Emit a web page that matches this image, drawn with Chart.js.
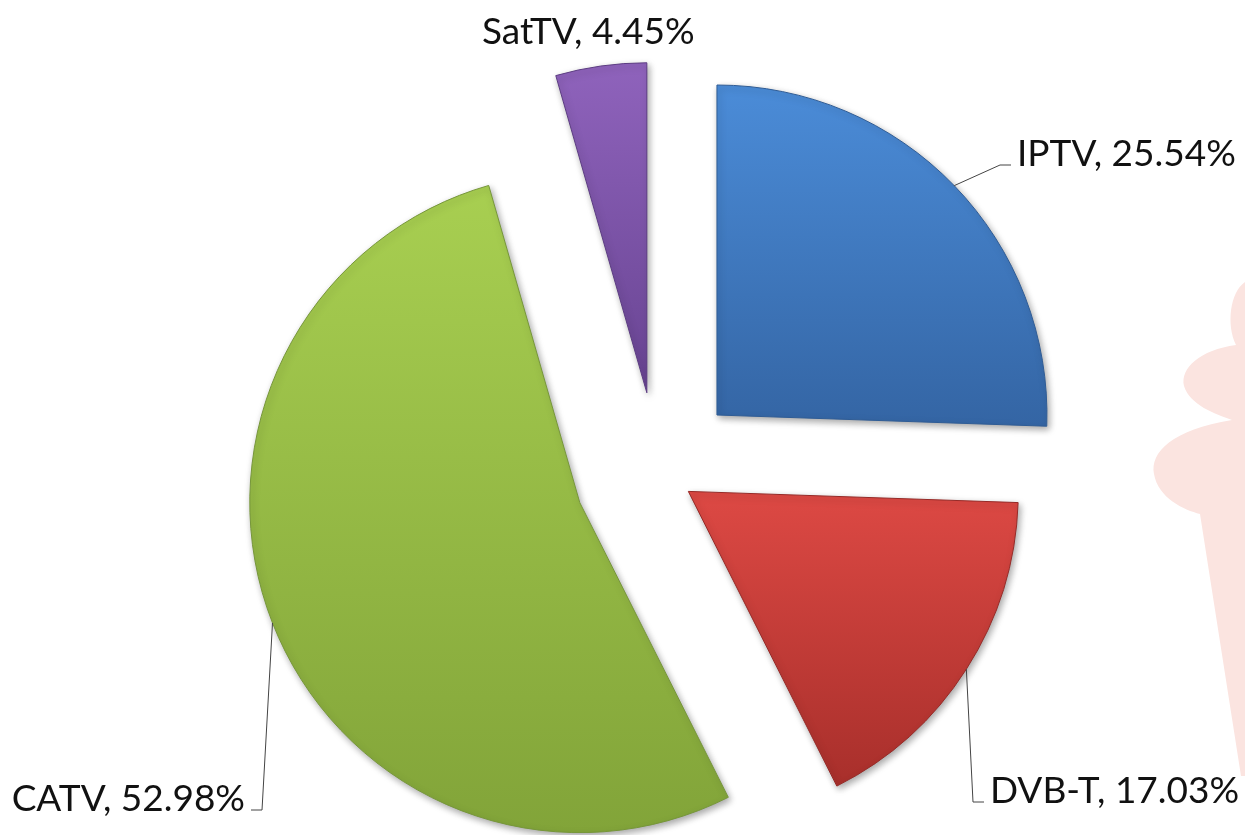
<!DOCTYPE html>
<html>
<head>
<meta charset="utf-8">
<script src="https://cdn.jsdelivr.net/npm/chart.js@4.4.1/dist/chart.umd.min.js"></script>
<style>
    html, body { margin: 0; padding: 0; background: #fff; }
</style>
</head>
<body>
<canvas id="tv-chart" width="1245" height="835"></canvas>
<script>
var labels = ['IPTV', 'DVB-T', 'CATV', 'SatTV'];
var shares = [25.54, 17.03, 52.98, 4.45];
var topColors = ['#4b8cd8', '#dd4944', '#a8cf51', '#8f63bc'];
var bottomColors = ['#3465a4', '#a82f2b', '#82a439', '#684492'];
var edgeColors = ['#2f5c95', '#962a27', '#76963a', '#5c3c82'];
var pull = [82, 36, 84, 80];   // px each slice is pulled out from the centre

var R = 330;
var total = shares.reduce(function(a, b){ return a + b; }, 0);

function sliceAngles(i){
    var before = 0;
    for(var k = 0; k < i; k++) before += shares[k];
    var a0 = -Math.PI / 2 + 2 * Math.PI * before / total;
    var a1 = a0 + 2 * Math.PI * shares[i] / total;
    return [a0, a1];
}

function sliceFill(c){
    var i = c.dataIndex;
    var area = c.chart.chartArea;
    if(!area) return topColors[i];
    var cy = (area.top + area.bottom) / 2;
    var a = sliceAngles(i);
    var mid = (a[0] + a[1]) / 2;
    var ay = cy + Math.sin(mid) * pull[i];
    var ys = [ay, ay + R * Math.sin(a[0]), ay + R * Math.sin(a[1])];
    if(a[0] < Math.PI / 2 && a[1] > Math.PI / 2) ys.push(ay + R);
    if(a[0] <= -Math.PI / 2 + 1e-6 || a[1] >= 3 * Math.PI / 2 - 1e-6) ys.push(ay - R);
    var g = c.chart.ctx.createLinearGradient(0, Math.min.apply(null, ys), 0, Math.max.apply(null, ys));
    g.addColorStop(0, topColors[i]);
    g.addColorStop(1, bottomColors[i]);
    return g;
}

// where each data label sits (baseline), and which side its leader comes from
var labelSpots = [
    {x: 1017, y: 166, align: 'left'},
    {x: 990, y: 803, align: 'left'},
    {x: 245, y: 811, align: 'right'},
    {x: 482, y: 44, align: 'left', noLine: true}
];

// explode the slices: move each arc's centre out along its middle angle
// (chart.js 'offset' also shrinks the angle, so do it here instead)
var explode = {
    id: 'explode',
    afterDatasetUpdate: function(chart, args){
        args.meta.data.forEach(function(arc, i){
            var mid = (arc.startAngle + arc.endAngle) / 2;
            arc.x += Math.cos(mid) * pull[i];
            arc.y += Math.sin(mid) * pull[i];
        });
    }
};

var watermark = {
    id: 'watermark',
    beforeDraw: function(chart){
        var ctx = chart.ctx;
        ctx.save();
        ctx.fillStyle = '#fbe4e0';
        ctx.beginPath();
        ctx.moveTo(1245, 282);
        ctx.bezierCurveTo(1230, 292, 1226, 325, 1236, 345);
        ctx.bezierCurveTo(1200, 350, 1180, 368, 1184, 386);
        ctx.bezierCurveTo(1190, 405, 1215, 414, 1232, 420);
        ctx.bezierCurveTo(1172, 430, 1150, 452, 1154, 474);
        ctx.bezierCurveTo(1158, 498, 1184, 510, 1200, 514);
        ctx.lineTo(1241, 776);
        ctx.lineTo(1245, 776);
        ctx.closePath();
        ctx.fill();
        ctx.restore();
    }
};

var shadow = {
    id: 'shadow',
    beforeDatasetsDraw: function(chart){
        var ctx = chart.ctx;
        ctx.save();
        ctx.shadowColor = 'rgba(0,0,0,0.35)';
        ctx.shadowBlur = 7;
        ctx.shadowOffsetX = 2;
        ctx.shadowOffsetY = 3;
    },
    afterDatasetsDraw: function(chart){
        chart.ctx.restore();
    }
};

var sliceLabels = {
    id: 'sliceLabels',
    afterDatasetsDraw: function(chart){
        var ctx = chart.ctx;
        var arcs = chart.getDatasetMeta(0).data;
        ctx.save();
        ctx.font = '37px Lato';
        ctx.fillStyle = '#111';
        ctx.strokeStyle = '#444';
        ctx.lineWidth = 1;
        ctx.textBaseline = 'alphabetic';
        arcs.forEach(function(arc, i){
            var spot = labelSpots[i];
            var text = labels[i] + ', ' + shares[i].toFixed(2) + '%';
            ctx.textAlign = spot.align;
            ctx.fillText(text, spot.x, spot.y);
            if(spot.noLine) return;
            var mid = (arc.startAngle + arc.endAngle) / 2;
            var sx = arc.x + Math.cos(mid) * arc.outerRadius;
            var sy = arc.y + Math.sin(mid) * arc.outerRadius;
            var dir = spot.align == 'left' ? -1 : 1;
            var ex = spot.x + dir * 6;
            var ly = spot.y - 1;
            ctx.beginPath();
            ctx.moveTo(sx, sy);
            ctx.lineTo(ex + dir * 11, ly);
            ctx.lineTo(ex, ly);
            ctx.stroke();
        });
        ctx.restore();
    }
};

var myChart = new Chart(document.getElementById('tv-chart'), {
    type: 'pie',
    data: {
        labels: labels,
        datasets: [{
            data: shares,
            backgroundColor: sliceFill,
            borderColor: edgeColors,
            borderWidth: 1,
            radius: R
        }]
    },
    options: {
        responsive: false,
        animation: false,
        events: [],
        layout: {
            padding: {left: 71, top: 109, right: 0, bottom: 0}
        },
        plugins: {
            legend: { display: false },
            tooltip: { enabled: false }
        }
    },
    plugins: [explode, watermark, shadow, sliceLabels]
});
</script>
</body>
</html>
